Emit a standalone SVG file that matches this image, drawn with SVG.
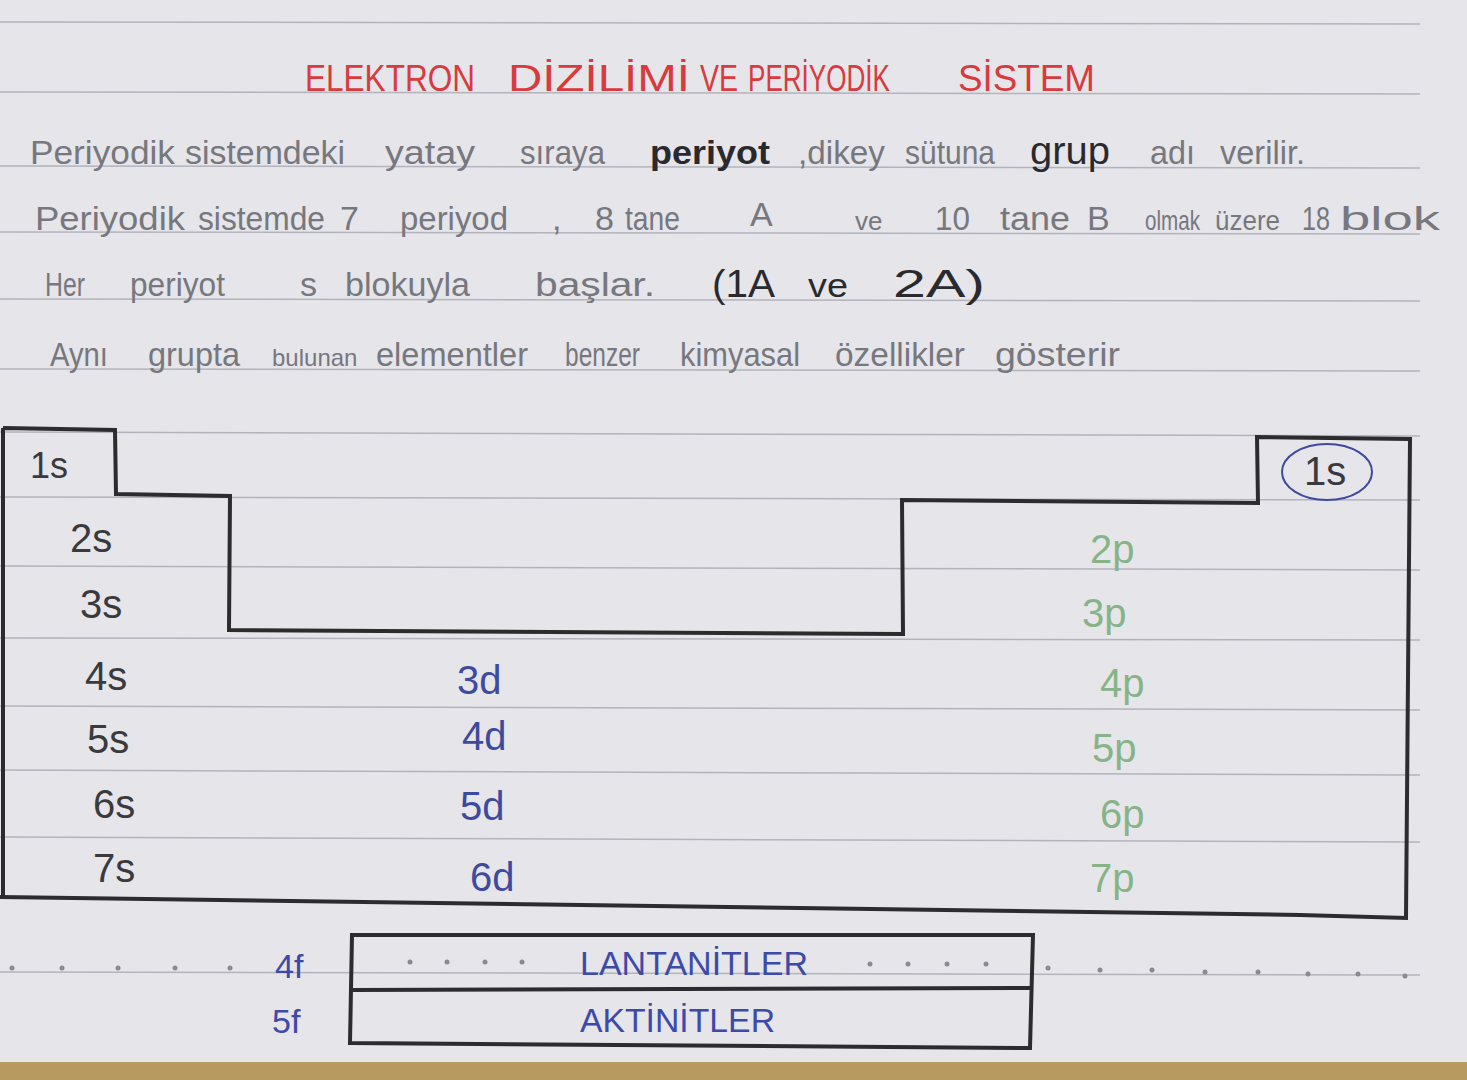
<svg xmlns="http://www.w3.org/2000/svg" width="1467" height="1080" viewBox="0 0 1467 1080">
<style>
.rule{stroke:#b3b3bd;stroke-width:1.5;fill:none}
.t{font-family:"Liberation Sans",Arial,sans-serif}
.pen{fill:#77777e;font-size:34px}
.dark{fill:#2a2a2e}
.red{fill:#d83a3e;font-size:36px}
.s{fill:#3a3a3e;font-size:40px}
.d{fill:#3d4a9e;font-size:40px}
.p{fill:#86b486;font-size:40px}
.f{fill:#3d4aa8;font-size:34px}
.box{stroke:#2c2c2e;stroke-width:4;fill:none;stroke-linejoin:miter}
.dot{fill:#8a8a92}
</style>
<rect width="1467" height="1080" fill="#e5e5ea"/>
<rect y="1062" width="1467" height="18" fill="#b79a60"/>
<g id="rules">
<line class="rule" x1="0" y1="22" x2="1420" y2="24"/>
<line class="rule" x1="0" y1="92" x2="1420" y2="94"/>
<line class="rule" x1="0" y1="166" x2="1420" y2="168"/>
<line class="rule" x1="0" y1="232" x2="1420" y2="234"/>
<line class="rule" x1="0" y1="299" x2="1420" y2="301"/>
<line class="rule" x1="0" y1="369" x2="1420" y2="371"/>
<line class="rule" x1="0" y1="432" x2="1420" y2="436"/>
<line class="rule" x1="0" y1="497" x2="1420" y2="500"/>
<line class="rule" x1="0" y1="566" x2="1420" y2="570"/>
<line class="rule" x1="0" y1="638" x2="1420" y2="640"/>
<line class="rule" x1="0" y1="706" x2="1420" y2="710"/>
<line class="rule" x1="0" y1="770" x2="1420" y2="775"/>
<line class="rule" x1="0" y1="837" x2="1420" y2="842"/>
<line class="rule" x1="0" y1="972" x2="1420" y2="975"/>
</g>
<g id="title" class="t red">
<text x="305" y="91" textLength="170" lengthAdjust="spacingAndGlyphs">ELEKTRON</text>
<text x="508" y="91" textLength="182" lengthAdjust="spacingAndGlyphs">DİZİLİMİ</text>
<text x="700" y="91" textLength="38" lengthAdjust="spacingAndGlyphs">VE</text>
<text x="748" y="91" textLength="142" lengthAdjust="spacingAndGlyphs">PERİYODİK</text>
<text x="958" y="91" textLength="137" lengthAdjust="spacingAndGlyphs">SİSTEM</text>
</g>
<g id="line1" class="t pen">
<text x="30" y="164" textLength="145" lengthAdjust="spacingAndGlyphs">Periyodik</text>
<text x="185" y="164" textLength="160" lengthAdjust="spacingAndGlyphs">sistemdeki</text>
<text x="385" y="164" textLength="90" lengthAdjust="spacingAndGlyphs">yatay</text>
<text x="520" y="164" textLength="85" lengthAdjust="spacingAndGlyphs">sıraya</text>
<text class="dark" x="650" y="164" textLength="120" lengthAdjust="spacingAndGlyphs" font-weight="bold">periyot</text>
<text x="798" y="164" textLength="87" lengthAdjust="spacingAndGlyphs">,dikey</text>
<text x="905" y="164" textLength="90" lengthAdjust="spacingAndGlyphs">sütuna</text>
<text class="dark" x="1030" y="164" textLength="80" lengthAdjust="spacingAndGlyphs" font-size="38">grup</text>
<text x="1150" y="164" textLength="45" lengthAdjust="spacingAndGlyphs">adı</text>
<text x="1220" y="164" textLength="85" lengthAdjust="spacingAndGlyphs">verilir.</text>
</g>
<g id="line2" class="t pen">
<text x="35" y="230" textLength="150" lengthAdjust="spacingAndGlyphs">Periyodik</text>
<text x="198" y="230" textLength="127" lengthAdjust="spacingAndGlyphs">sistemde</text>
<text x="340" y="230">7</text>
<text x="400" y="230" textLength="108" lengthAdjust="spacingAndGlyphs">periyod</text>
<text x="552" y="230">,</text>
<text x="595" y="230">8</text>
<text x="625" y="230" textLength="55" lengthAdjust="spacingAndGlyphs">tane</text>
<text x="750" y="226">A</text>
<text x="855" y="230" font-size="26">ve</text>
<text x="935" y="230" textLength="35" lengthAdjust="spacingAndGlyphs">10</text>
<text x="1000" y="230" textLength="70" lengthAdjust="spacingAndGlyphs">tane</text>
<text x="1087" y="230">B</text>
<text x="1145" y="230" textLength="55" lengthAdjust="spacingAndGlyphs" font-size="28">olmak</text>
<text x="1215" y="230" textLength="65" lengthAdjust="spacingAndGlyphs" font-size="28">üzere</text>
<text x="1302" y="230" textLength="28" lengthAdjust="spacingAndGlyphs">18</text>
<text x="1340" y="230" textLength="100" lengthAdjust="spacingAndGlyphs">blok</text>
</g>
<g id="line3" class="t pen">
<text x="45" y="296" textLength="40" lengthAdjust="spacingAndGlyphs">Her</text>
<text x="130" y="296" textLength="95" lengthAdjust="spacingAndGlyphs">periyot</text>
<text x="300" y="296">s</text>
<text x="345" y="296" textLength="125" lengthAdjust="spacingAndGlyphs">blokuyla</text>
<text x="535" y="296" textLength="120" lengthAdjust="spacingAndGlyphs">başlar.</text>
<text class="dark" x="712" y="297" textLength="63" lengthAdjust="spacingAndGlyphs" font-size="38">(1A</text>
<text class="dark" x="808" y="297" textLength="40" lengthAdjust="spacingAndGlyphs" font-size="34">ve</text>
<text class="dark" x="893" y="297" textLength="92" lengthAdjust="spacingAndGlyphs" font-size="38">2A)</text>
</g>
<g id="line4" class="t pen">
<text x="50" y="366" textLength="58" lengthAdjust="spacingAndGlyphs">Aynı</text>
<text x="148" y="366" textLength="92" lengthAdjust="spacingAndGlyphs">grupta</text>
<text x="272" y="366" font-size="24">bulunan</text>
<text x="376" y="366" textLength="152" lengthAdjust="spacingAndGlyphs">elementler</text>
<text x="565" y="366" textLength="75" lengthAdjust="spacingAndGlyphs">benzer</text>
<text x="680" y="366" textLength="120" lengthAdjust="spacingAndGlyphs">kimyasal</text>
<text x="835" y="366" textLength="130" lengthAdjust="spacingAndGlyphs">özellikler</text>
<text x="995" y="366" textLength="125" lengthAdjust="spacingAndGlyphs">gösterir</text>
</g>
<g id="table">
<path class="box" d="M3,428 L115,430 L116,494 L230,496 L229,630 L903,634 L902,500 L1258,503 L1257,437 L1410,439 L1406,918 L1300,915 L0,897 M3,428 L3,897"/>
</g>
<g id="s-block" class="t s">
<text x="30" y="478" font-size="36">1s</text>
<text x="70" y="552">2s</text>
<text x="80" y="618">3s</text>
<text x="85" y="690">4s</text>
<text x="87" y="753">5s</text>
<text x="93" y="818">6s</text>
<text x="93" y="882">7s</text>
</g>
<g id="d-block" class="t d">
<text x="457" y="694">3d</text>
<text x="462" y="750">4d</text>
<text x="460" y="820">5d</text>
<text x="470" y="891">6d</text>
</g>
<g id="p-block" class="t p">
<text x="1090" y="563">2p</text>
<text x="1082" y="627">3p</text>
<text x="1100" y="697">4p</text>
<text x="1092" y="762">5p</text>
<text x="1100" y="828">6p</text>
<text x="1090" y="892">7p</text>
</g>
<g id="he">
<ellipse cx="1327" cy="472" rx="45" ry="28" fill="none" stroke="#3d4aa0" stroke-width="2"/>
<text class="t s" x="1304" y="485" font-size="36">1s</text>
</g>
<g id="dots" class="dot">
<circle cx="12" cy="968" r="2.5"/><circle cx="62" cy="968" r="2.5"/><circle cx="118" cy="968" r="2.5"/><circle cx="175" cy="968" r="2.5"/><circle cx="230" cy="968" r="2.5"/>
<circle cx="410" cy="962" r="2.5"/><circle cx="447" cy="962" r="2.5"/><circle cx="485" cy="962" r="2.5"/><circle cx="522" cy="962" r="2.5"/>
<circle cx="870" cy="964" r="2.5"/><circle cx="908" cy="964" r="2.5"/><circle cx="947" cy="964" r="2.5"/><circle cx="986" cy="964" r="2.5"/>
<circle cx="1048" cy="968" r="2.5"/><circle cx="1100" cy="970" r="2.5"/><circle cx="1152" cy="970" r="2.5"/><circle cx="1205" cy="972" r="2.5"/><circle cx="1258" cy="972" r="2.5"/><circle cx="1308" cy="974" r="2.5"/><circle cx="1358" cy="974" r="2.5"/><circle cx="1405" cy="976" r="2.5"/>
</g>
<g id="f-block">
<path class="box" d="M352,935 L1033,935 L1030,1048 L350,1043 Z M352,990 L1030,988"/>
<text class="t f" x="275" y="978">4f</text>
<text class="t f" x="272" y="1033">5f</text>
<text class="t f" x="580" y="975" textLength="228" lengthAdjust="spacingAndGlyphs" font-size="32">LANTANİTLER</text>
<text class="t f" x="580" y="1032" textLength="195" lengthAdjust="spacingAndGlyphs" font-size="32">AKTİNİTLER</text>
</g>
</svg>
